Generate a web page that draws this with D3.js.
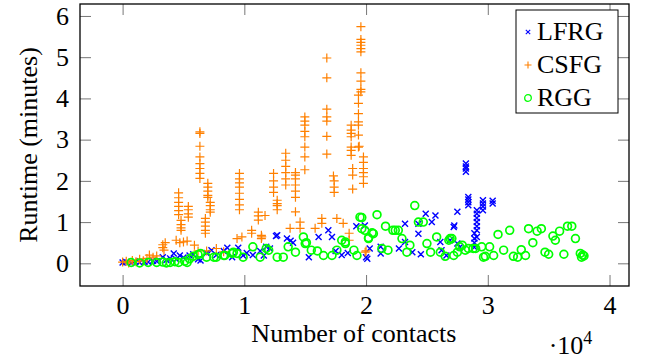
<!DOCTYPE html>
<html>
<head>
<meta charset="utf-8">
<script src="https://cdn.jsdelivr.net/npm/d3@7"></script>
</head>
<body style="margin:0">
<div id="chart"></div>
<script>
// values: [contacts, runtime in minutes]
const lfrg = [
  [0, 0.02], [300, 0.03], [700, 0.01], [1000, 0.05], [1400, 0.02], [1800, 0.04], [2100, 0.03],
  [2500, 0.06], [2800, 0.05], [3300, 0.15], [3600, 0.08], [3900, 0.12], [4200, 0.24], [4400, 0.1],
  [4700, 0.19], [5000, 0.14], [5500, 0.19], [5800, 0.22], [6200, 0.1], [6400, 0.07], [6900, 0.25],
  [7300, 0.32], [7700, 0.2], [8300, 0.3], [8600, 0.38], [9000, 0.15], [9500, 0.38], [9900, 0.19],
  [10200, 0.25], [10700, 0.2], [11300, 0.3], [11600, 0.19], [11800, 0.4], [12100, 0.36],
  [12600, 0.66], [12700, 0.68], [13500, 0.6], [13800, 0.55], [14000, 0.5], [15300, 0.15],
  [16100, 0.64], [16900, 0.8], [17200, 0.64], [17500, 0.3], [18000, 0.2], [18500, 0.25],
  [19200, 0.9], [19900, 0.92], [20000, 0.15], [20300, 0.36], [20100, 0.11], [21200, 0.4],
  [21200, 0.24], [22700, 0.36], [23200, 0.96], [23200, 0.52], [23800, 0.27], [24300, 0.96],
  [24300, 0.72], [24500, 0.22], [24900, 1.2], [25400, 1.0], [25700, 1.16], [26100, 0.52],
  [26200, 0.32], [26600, 0.19], [26900, 0.56], [27200, 0.88], [27250, 0.92], [27500, 1.25],
  [27500, 0.48], [27700, 0.39], [28200, 2.42], [28200, 2.35], [28200, 2.3], [28200, 2.22],
  [28400, 1.61], [28400, 1.55], [28400, 1.48], [28400, 1.41], [28900, 0.39], [28900, 0.5],
  [28900, 0.6], [28900, 0.73], [29100, 0.64], [29100, 0.8], [29100, 0.9], [29100, 1.0],
  [29100, 1.1], [29100, 1.2], [29100, 1.29], [29600, 1.53], [29600, 1.45], [29600, 1.38],
  [29600, 1.29], [30400, 1.45], [30400, 1.52]
];

const csfg = [
  [0, 0.03], [300, 0.05], [500, 0.01], [800, 0.07], [1100, 0.04], [1400, 0.1], [1700, 0.06],
  [2000, 0.12], [2200, 0.2], [2500, 0.15], [2800, 0.18], [3300, 0.45], [3300, 0.38],
  [3400, 0.32], [3500, 0.5], [4400, 0.56], [4700, 0.5], [5000, 0.52], [5300, 0.54],
  [5900, 0.44], [6200, 0.3], [6900, 0.3], [7700, 0.36], [8300, 0.28], [9400, 0.6], [9800, 0.64],
  [4600, 1.71], [4600, 1.59], [4600, 1.48], [4600, 1.38], [4600, 1.28], [4600, 1.18],
  [4800, 1.04], [4800, 0.94], [4800, 0.86], [4800, 0.8],
  [5400, 1.38], [5400, 1.3], [5400, 1.2], [5400, 1.12],
  [6350, 3.19], [6350, 3.15], [6350, 2.84], [6350, 2.58], [6350, 2.42], [6350, 2.3], [6350, 2.18], [6350, 2.06],
  [7000, 1.94], [7000, 1.85], [7000, 1.75], [7000, 1.65], [7000, 1.6],
  [7200, 1.48], [7200, 1.4], [7200, 1.3], [7200, 1.24],
  [6800, 1.09], [6800, 1.0], [6800, 0.9], [6800, 0.8], [6800, 0.73],
  [9600, 2.18], [9600, 2.05], [9600, 1.95], [9600, 1.85], [9600, 1.7], [9600, 1.55], [9600, 1.42], [9600, 1.3],
  [11150, 1.24], [11150, 1.15], [11150, 1.05], [10600, 0.8], [10600, 0.73], [11400, 0.68], [11400, 0.6],
  [11700, 1.16], [11430, 0.64],
  [12400, 2.18], [12400, 2.0], [12400, 1.85], [12400, 1.72],
  [12700, 1.53], [12700, 1.45], [12700, 1.4], [12700, 1.3],
  [13400, 2.67], [13400, 2.5], [13400, 2.35], [13400, 2.2], [13400, 2.05], [13400, 1.9],
  [14200, 2.2], [14200, 2.14], [14200, 2.05], [14200, 1.9], [14200, 1.75], [14200, 1.6], [14200, 1.25],
  [14580, 1.0], [14580, 0.85], [13760, 0.85],
  [14970, 3.55], [14970, 3.45], [14970, 3.35], [14970, 3.2], [14970, 3.07], [14970, 2.82], [14970, 2.58], [14970, 2.27],
  [16775, 4.98], [16775, 4.5], [16775, 3.74], [16775, 3.55], [16775, 3.45], [16775, 3.08], [16775, 2.65],
  [17320, 2.12], [17380, 2.0], [17380, 1.85], [17380, 1.72],
  [16365, 1.09], [16365, 0.97], [15815, 0.85], [17600, 1.09], [18120, 0.97], [18610, 0.73], [18610, 0.56],
  [19575, 5.74], [19575, 5.43], [19575, 5.36], [19575, 5.29], [19575, 5.21], [19575, 5.13],
  [19575, 4.62], [19575, 4.42], [19575, 4.22], [19575, 4.16],
  [19375, 4.08], [19375, 3.88], [19375, 3.63], [19375, 3.43], [19375, 3.35], [19375, 3.11], [19375, 2.82],
  [18775, 3.35], [18775, 3.23], [18775, 3.15], [18775, 3.07], [18775, 2.82], [18775, 2.74], [18775, 2.62],
  [19785, 2.58], [19785, 2.45], [19785, 2.3], [19785, 2.2], [19785, 2.1], [19785, 1.94],
  [18900, 2.3], [18900, 2.14], [18900, 1.8], [19435, 2.84], [19925, 0.27], [20000, 0.3]
];

const rgg = [
  [700, 0.02], [1400, 0.01], [2100, 0.02], [2800, 0.02], [3300, 0.03], [3600, 0.01], [3900, 0.02],
  [4300, 0.04], [4600, 0.02], [5100, 0.05], [5300, 0.02], [5500, 0.11], [5800, 0.17], [6200, 0.21],
  [6400, 0.24], [6900, 0.15], [7500, 0.15], [7700, 0.15], [8300, 0.19], [8400, 0.19], [9000, 0.24],
  [9100, 0.27], [9400, 0.24], [9900, 0.15], [10700, 0.4], [11300, 0.15], [11800, 0.36],
  [12000, 0.32], [12700, 0.15], [13200, 0.15], [13600, 0.4], [14200, 0.27], [14850, 0.64],
  [15000, 0.48], [15100, 0.5], [15500, 0.32], [16000, 0.3], [16500, 0.19], [17200, 0.19],
  [17600, 0.32], [18000, 0.56], [18300, 0.48], [18300, 0.52], [19000, 0.32], [19250, 0.19],
  [19500, 1.12], [19650, 1.11], [19650, 0.84], [19900, 0.8], [20200, 0.6], [20200, 0.62],
  [20500, 0.74], [20600, 0.72], [20900, 1.18], [21300, 0.36], [21600, 0.9], [21800, 0.32],
  [22200, 0.8], [22400, 0.8], [22650, 0.8], [22950, 0.6], [23350, 0.27], [23600, 0.44],
  [24000, 1.4], [24300, 1.0], [24700, 1.0], [25000, 0.48], [25300, 0.27], [25800, 0.64],
  [26100, 0.27], [26500, 0.17], [26800, 0.56], [26900, 0.6], [27050, 0.6], [27200, 0.19],
  [27500, 0.27], [27700, 0.4], [27900, 0.44], [28150, 0.32], [28400, 0.36], [28800, 0.36],
  [29000, 0.36], [29500, 0.4], [29650, 0.15], [29800, 0.17], [30150, 0.4], [30480, 0.19],
  [30840, 0.7], [31300, 0.32], [31800, 0.8], [32100, 0.17], [32450, 0.15], [32750, 0.33],
  [33100, 0.19], [33350, 0.84], [33700, 0.5], [34050, 0.78], [34400, 0.84], [34700, 0.27],
  [35000, 0.22], [35350, 0.66], [35550, 0.56], [35900, 0.78], [36250, 0.22], [36550, 0.9],
  [36900, 0.9], [37200, 0.6], [37600, 0.24], [37700, 0.15], [37800, 0.2], [37900, 0.18]
];

const seriesNames = ["LFRG", "CSFG", "RGG"];
const xTicks = [0, 10000, 20000, 30000, 40000];
const yTicks = [0, 1, 2, 3, 4, 5, 6];

const W = 647, H = 360;
const margin = { top: 4, right: 18, bottom: 74, left: 80 };
const width = W - margin.left - margin.right;
const height = H - margin.top - margin.bottom;
const serif = "'Liberation Serif'";
const fs = "26px";

const svg = d3.select("#chart").append("svg")
  .attr("width", W)
  .attr("height", H)
  .style("font-family", serif);

const g = svg.append("g")
  .attr("transform", `translate(${margin.left},${margin.top})`);

const x = d3.scaleLinear().domain([-3500, 41600]).range([0, width]);
const y = d3.scaleLinear().domain([-0.55, 6.29]).range([height, 0]);

const tickLen = 11;

// axes: inward ticks on all four sides
const xAxisB = g.append("g").attr("transform", `translate(0,${height})`)
  .call(d3.axisBottom(x).tickValues(xTicks).tickSize(-tickLen).tickPadding(10)
    .tickFormat(d => d3.format("d")(d / 10000)));
const xAxisT = g.append("g")
  .call(d3.axisTop(x).tickValues(xTicks).tickSize(-tickLen).tickFormat(""));
const yAxisL = g.append("g")
  .call(d3.axisLeft(y).tickValues(yTicks).tickSize(-tickLen).tickPadding(11)
    .tickFormat(d3.format("d")));
const yAxisR = g.append("g").attr("transform", `translate(${width},0)`)
  .call(d3.axisRight(y).tickValues(yTicks).tickSize(-tickLen).tickFormat(""));

[xAxisB, xAxisT, yAxisL, yAxisR].forEach(a => {
  a.attr("font-family", null).attr("font-size", null)
    .style("font-family", serif).style("font-size", fs);
  a.select(".domain").remove();
  a.selectAll(".tick line").attr("stroke", "#777").attr("stroke-width", 1);
  a.selectAll(".tick text")
    .attr("fill", "#000")
    .style("font-family", serif)
    .style("font-size", fs);
});

g.append("clipPath").attr("id", "clip")
  .append("rect").attr("width", width).attr("height", height);

const plot = g.append("g").attr("clip-path", "url(#clip)");

const crossPath = "M-3,-3L3,3M-3,3L3,-3";
const plusPath = "M-4.5,0H4.5M0,-4.5V4.5";

plot.append("g").selectAll("path").data(lfrg).join("path")
  .attr("transform", d => `translate(${x(d[0])},${y(d[1])})`)
  .attr("d", crossPath)
  .attr("stroke", "#0000ff")
  .attr("stroke-width", 1.4)
  .attr("fill", "none");

plot.append("g").selectAll("path").data(csfg).join("path")
  .attr("transform", d => `translate(${x(d[0])},${y(d[1])})`)
  .attr("d", plusPath)
  .attr("stroke", "#ff8000")
  .attr("stroke-width", 1.2)
  .attr("fill", "none");

plot.append("g").selectAll("circle").data(rgg).join("circle")
  .attr("cx", d => x(d[0]))
  .attr("cy", d => y(d[1]))
  .attr("r", 3.9)
  .attr("stroke", "#00ff00")
  .attr("stroke-width", 1.7)
  .attr("fill", "none");

// frame
g.append("rect")
  .attr("width", width)
  .attr("height", height)
  .attr("fill", "none")
  .attr("stroke", "#000")
  .attr("stroke-width", 1.3);

// axis labels
g.append("text")
  .attr("x", x(19000))
  .attr("y", height + 56)
  .attr("text-anchor", "middle")
  .style("font-family", serif)
  .style("font-size", fs)
  .text("Number of contacts");

const exp = g.append("text")
  .attr("x", x(35000))
  .attr("y", height + 68)
  .style("font-family", serif)
  .style("font-size", fs);
exp.append("tspan").style("font-family", serif).text("·10");
exp.append("tspan").attr("dy", -10)
  .style("font-family", serif).style("font-size", "18px").text("4");

g.append("text")
  .attr("transform", `translate(-43,${height / 2}) rotate(-90)`)
  .attr("text-anchor", "middle")
  .style("font-family", serif)
  .style("font-size", fs)
  .text("Runtime (minutes)");

// legend
const legend = svg.append("g").attr("transform", "translate(516,10)");
legend.append("rect")
  .attr("width", 102)
  .attr("height", 103)
  .attr("fill", "#fff")
  .attr("stroke", "#000")
  .attr("stroke-width", 1);

const legMarks = [
  { d: "M-2.2,-2.2L2.2,2.2M-2.2,2.2L2.2,-2.2", color: "#0000ff" },
  { d: "M-3.5,0H3.5M0,-3.5V3.5", color: "#ff8000" },
  { d: null, color: "#00ff00" }
];
seriesNames.forEach((name, i) => {
  const row = legend.append("g").attr("transform", `translate(0,${22 + i * 33})`);
  if (legMarks[i].d) {
    row.append("path").attr("transform", "translate(12,0)")
      .attr("d", legMarks[i].d).attr("stroke", legMarks[i].color)
      .attr("stroke-width", 1.1).attr("fill", "none");
  } else {
    row.append("circle").attr("cx", 12).attr("cy", 0).attr("r", 3.3)
      .attr("stroke", legMarks[i].color).attr("stroke-width", 1.3).attr("fill", "none");
  }
  row.append("text")
    .attr("x", 21)
    .attr("y", 8)
    .style("font-family", serif)
    .style("font-size", fs)
    .text(name);
});
</script>
</body>
</html>
